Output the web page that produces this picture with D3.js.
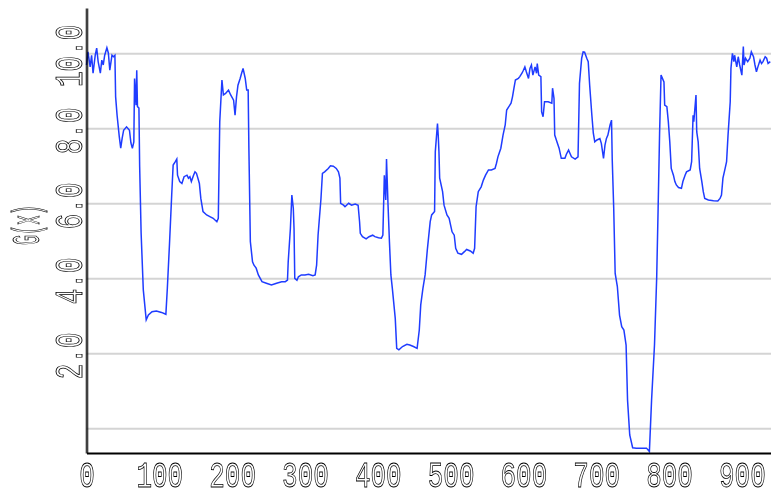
<!DOCTYPE html>
<html>
<head>
<meta charset="utf-8">
<script src="https://cdn.jsdelivr.net/npm/d3@7"></script>
<style>
body{margin:0;background:#fff;}
svg{display:block;}
.lbl{font-family:"Liberation Mono",monospace;font-size:26px;fill:none;stroke:#000;stroke-width:0.75;vector-effect:non-scaling-stroke;}
.axis,.ylabel{filter:grayscale(100%);}
</style>
</head>
<body>
<div id="chart"></div>
<script>
const w = 771;
const h = 493;
const xLeft = 86.5;
const xRight = 771;
const yTop = 8;
const yBottom = 453;

// sample index (x) and G(x)
const xIdx = [
  0,2,5,7,9,12,14,16,19,21,
  23,25,28,30,32,35,37,39,40,42,
  45,47,49,51,55,59,61,63,65,66,
  68,69,70,72,73,75,78,82,85,90,
  96,103,109,111,114,117,119,122,124,125,
  128,131,134,138,140,142,144,147,149,151,
  153,155,157,160,165,170,174,179,181,183,
  186,188,191,195,198,202,204,206,208,211,
  213,215,218,220,222,223,225,228,230,233,
  236,241,247,254,261,268,273,276,277,280,
  282,284,285,286,289,291,295,300,305,311,
  314,316,318,322,324,327,332,335,339,343,
  346,348,349,353,355,360,364,369,373,375,
  376,379,384,388,393,396,401,405,407,409,
  411,412,414,416,418,420,424,426,429,434,
  440,444,449,454,457,459,462,465,468,472,
  474,478,479,482,483,484,485,489,491,495,
  498,500,502,505,507,510,515,519,522,527,
  531,533,535,538,542,545,548,552,556,561,
  563,565,569,572,575,577,580,583,585,587,
  589,593,595,598,600,602,604,607,609,611,
  613,616,618,619,621,624,625,627,629,634,
  639,640,642,643,646,649,652,657,659,662,
  664,666,671,675,677,680,682,684,687,689,
  691,694,696,698,701,705,707,710,712,714,
  716,719,721,722,724,726,729,732,735,738,
  741,743,746,750,755,762,769,773,776,780,
  783,785,787,789,793,794,797,799,801,803,
  806,808,810,813,817,819,822,824,829,831,
  833,834,837,838,840,842,845,847,849,854,
  861,867,870,872,874,877,879,881,884,885,
  887,889,890,893,895,897,900,902,903,905,
  908,911,913,916,918,920,922,925,927,929,
  932,934,936,939
];
const gx = [
  9.69,10.04,9.64,9.95,9.47,9.95,10.14,9.78,9.47,9.82,
  9.69,9.95,10.15,10.01,9.55,9.95,9.91,9.95,8.84,8.35,
  7.78,7.47,7.74,7.95,8.04,7.95,7.61,7.47,7.64,9.33,
  8.62,9.55,8.58,8.54,6.98,5.21,3.69,2.89,3.02,3.11,
  3.13,3.09,3.04,3.73,4.93,6.22,7.02,7.11,7.18,6.75,
  6.58,6.53,6.71,6.75,6.67,6.71,6.58,6.75,6.84,6.80,
  6.67,6.53,6.13,5.78,5.69,5.64,5.60,5.51,5.60,8.18,
  9.29,8.89,8.93,9.02,8.89,8.75,8.35,8.84,9.15,9.33,
  9.47,9.60,9.33,9.02,9.02,7.47,4.98,4.44,4.35,4.27,
  4.09,3.91,3.87,3.82,3.87,3.91,3.91,3.95,4.44,5.33,
  6.22,5.87,5.33,4.00,3.95,4.04,4.09,4.09,4.11,4.07,
  4.09,4.35,5.15,6.13,6.80,6.84,6.93,7.00,6.99,6.93,
  6.84,6.67,6.00,5.95,5.91,6.00,5.95,5.98,5.95,5.51,
  5.20,5.11,5.05,5.11,5.15,5.11,5.08,5.07,5.15,6.75,
  6.09,7.18,6.00,4.98,4.09,3.73,2.93,2.13,2.09,2.18,
  2.24,2.22,2.18,2.13,2.62,3.29,3.73,4.09,4.75,5.51,
  5.69,5.78,7.38,8.13,7.82,7.38,6.67,6.31,5.95,5.69,
  5.60,5.42,5.24,5.15,4.80,4.67,4.64,4.71,4.77,4.73,
  4.67,4.80,5.91,6.31,6.44,6.62,6.75,6.89,6.89,6.93,
  7.07,7.24,7.47,7.82,8.09,8.49,8.58,8.67,8.84,9.07,
  9.29,9.33,9.38,9.47,9.55,9.64,9.51,9.33,9.60,9.69,
  9.42,9.64,9.47,9.73,9.42,9.38,8.44,8.31,8.71,8.71,
  8.67,9.07,8.80,7.82,7.64,7.47,7.20,7.20,7.31,7.42,
  7.33,7.24,7.18,7.24,9.20,9.87,10.04,10.03,9.87,9.78,
  9.15,8.35,7.87,7.64,7.69,7.73,7.60,7.20,7.55,7.73,
  7.82,8.09,8.22,7.15,5.87,4.13,3.78,3.02,2.71,2.62,
  2.22,0.75,-0.18,-0.52,-0.53,-0.53,-0.53,-0.62,0.75,2.22,
  4.01,5.87,7.87,9.42,9.24,8.62,8.58,8.18,7.64,6.93,
  6.75,6.58,6.49,6.42,6.40,6.58,6.75,6.84,6.89,7.11,
  8.35,8.18,8.89,7.91,7.64,6.93,6.58,6.31,6.13,6.09,
  6.07,6.06,6.13,6.22,6.67,6.93,7.11,7.82,8.71,9.60,
  10.00,9.78,9.95,9.64,9.91,9.69,9.42,10.18,9.69,9.87,
  9.78,9.87,10.04,9.91,9.69,9.51,9.64,9.82,9.73,9.78,
  9.91,9.87,9.73,9.78
];

const xTicks = [0,100,200,300,400,500,600,700,800,900];
const yTicks = [2,4,6,8,10];
const gridVals = [0,2,4,6,8,10];

const svg = d3.select('#chart')
.append('svg')
.attr('width',w)
.attr('height',h);

const xScale = d3.scaleLinear().domain([0,940]).range([xLeft,xRight]);
const yScale = d3.scaleLinear().domain([-0.66,11.21]).range([yBottom,yTop]);

//Gridlines
svg.append('g')
.attr('transform',`translate(${xLeft},0)`)
.call(d3.axisLeft(yScale).tickValues(gridVals).tickSize(-(xRight-xLeft)).tickFormat(''))
.call(g => g.select('.domain').remove())
.selectAll('line')
.attr('stroke','#d4d4d4')
.attr('stroke-width',2);

//Data line
const line = d3.line()
.x((d,i) => xScale(xIdx[i]))
.y(d => yScale(d));
svg.append('path')
.datum(gx)
.attr('d',line)
.attr('fill','none')
.attr('stroke','#1f3cff')
.attr('stroke-width',1.5);

//x axis
const xAxis = svg.append('g')
.attr('class','axis')
.attr('transform',`translate(0,${yBottom})`)
.call(d3.axisBottom(xScale).tickValues(xTicks).tickSize(0).tickSizeOuter(0).tickFormat(d3.format('d')));
xAxis.select('.domain').attr('stroke','#000').attr('stroke-width',2);
xAxis.selectAll('text')
.attr('class','lbl')
.attr('y',0).attr('dy',0)
.attr('transform','translate(0,34) scale(1,1.45)');

//y axis
const yAxis = svg.append('g')
.attr('class','axis')
.attr('transform',`translate(${xLeft},0)`)
.call(d3.axisLeft(yScale).tickValues(yTicks).tickSize(0).tickSizeOuter(0).tickFormat(d3.format('.1f')));
yAxis.select('.domain').attr('stroke','#000').attr('stroke-width',2);
yAxis.selectAll('text')
.attr('class','lbl')
.attr('x',0).attr('dy',0)
.attr('text-anchor','middle')
.attr('transform','translate(-4.5,2) rotate(-90) scale(1,1.5)');

//y label
svg.append('g')
.attr('class','ylabel')
.append('text')
.attr('class','lbl')
.attr('transform','translate(39,225) rotate(-90) scale(1,1.5)')
.attr('text-anchor','middle')
.attr('textLength',40)
.attr('lengthAdjust','spacingAndGlyphs')
.text('G(x)');
</script>
</body>
</html>
